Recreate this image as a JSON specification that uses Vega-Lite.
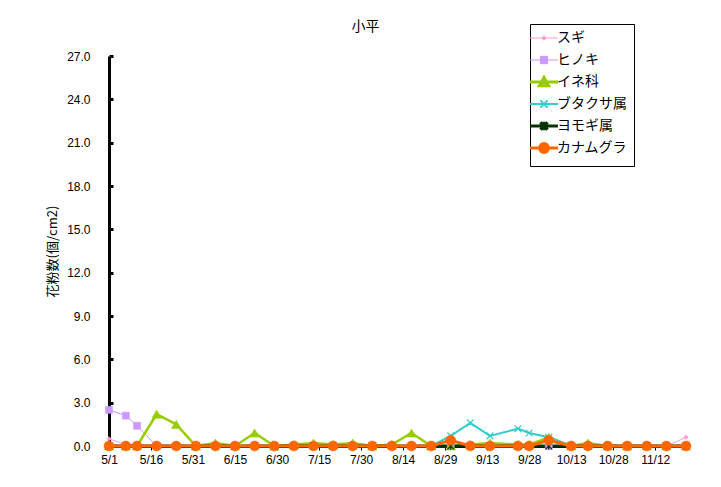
{
  "$schema": "https://vega.github.io/schema/vega-lite/v6.json",
  "width": 577,
  "height": 390,
  "autosize": {"type": "none"},
  "padding": {"left": 109, "top": 56, "right": 35, "bottom": 41},
  "background": "white",
  "config": {"view": {"stroke": null}},
  "title": {
    "text": "小平",
    "font": "Noto Sans CJK JP",
    "fontSize": 14,
    "fontWeight": "normal",
    "color": "black",
    "anchor": "middle",
    "frame": "group",
    "dx": -32,
    "dy": 26,
    "offset": 16
  },
  "data": {
    "values": [
      {"date": "2023/05/01", "series": "スギ", "value": 0.5},
      {"date": "2023/05/07", "series": "スギ", "value": 0.1},
      {"date": "2023/05/11", "series": "スギ", "value": 0},
      {"date": "2023/05/18", "series": "スギ", "value": 0},
      {"date": "2023/05/25", "series": "スギ", "value": 0},
      {"date": "2023/06/01", "series": "スギ", "value": 0},
      {"date": "2023/06/08", "series": "スギ", "value": 0},
      {"date": "2023/06/15", "series": "スギ", "value": 0},
      {"date": "2023/06/22", "series": "スギ", "value": 0.1},
      {"date": "2023/06/29", "series": "スギ", "value": 0},
      {"date": "2023/07/06", "series": "スギ", "value": 0},
      {"date": "2023/07/13", "series": "スギ", "value": 0},
      {"date": "2023/07/20", "series": "スギ", "value": 0},
      {"date": "2023/07/27", "series": "スギ", "value": 0},
      {"date": "2023/08/03", "series": "スギ", "value": 0},
      {"date": "2023/08/10", "series": "スギ", "value": 0},
      {"date": "2023/08/17", "series": "スギ", "value": 0},
      {"date": "2023/08/24", "series": "スギ", "value": 0},
      {"date": "2023/08/31", "series": "スギ", "value": 0},
      {"date": "2023/09/07", "series": "スギ", "value": 0},
      {"date": "2023/09/14", "series": "スギ", "value": 0},
      {"date": "2023/09/24", "series": "スギ", "value": 0},
      {"date": "2023/09/28", "series": "スギ", "value": 0},
      {"date": "2023/10/05", "series": "スギ", "value": 0},
      {"date": "2023/10/13", "series": "スギ", "value": 0},
      {"date": "2023/10/19", "series": "スギ", "value": 0},
      {"date": "2023/10/26", "series": "スギ", "value": 0},
      {"date": "2023/11/02", "series": "スギ", "value": 0},
      {"date": "2023/11/09", "series": "スギ", "value": 0},
      {"date": "2023/11/16", "series": "スギ", "value": 0},
      {"date": "2023/11/23", "series": "スギ", "value": 0.6},

      {"date": "2023/05/01", "series": "ヒノキ", "value": 2.5},
      {"date": "2023/05/07", "series": "ヒノキ", "value": 2.1},
      {"date": "2023/05/11", "series": "ヒノキ", "value": 1.4},
      {"date": "2023/05/18", "series": "ヒノキ", "value": 0},
      {"date": "2023/05/25", "series": "ヒノキ", "value": 0},
      {"date": "2023/06/01", "series": "ヒノキ", "value": 0},
      {"date": "2023/06/08", "series": "ヒノキ", "value": 0},
      {"date": "2023/06/15", "series": "ヒノキ", "value": 0},
      {"date": "2023/06/22", "series": "ヒノキ", "value": 0},
      {"date": "2023/06/29", "series": "ヒノキ", "value": 0},
      {"date": "2023/07/06", "series": "ヒノキ", "value": 0},
      {"date": "2023/07/13", "series": "ヒノキ", "value": 0},
      {"date": "2023/07/20", "series": "ヒノキ", "value": 0},
      {"date": "2023/07/27", "series": "ヒノキ", "value": 0},
      {"date": "2023/08/03", "series": "ヒノキ", "value": 0},
      {"date": "2023/08/10", "series": "ヒノキ", "value": 0},
      {"date": "2023/08/17", "series": "ヒノキ", "value": 0},
      {"date": "2023/08/24", "series": "ヒノキ", "value": 0},
      {"date": "2023/08/31", "series": "ヒノキ", "value": 0},
      {"date": "2023/09/07", "series": "ヒノキ", "value": 0},
      {"date": "2023/09/14", "series": "ヒノキ", "value": 0},
      {"date": "2023/09/24", "series": "ヒノキ", "value": 0},
      {"date": "2023/09/28", "series": "ヒノキ", "value": 0},
      {"date": "2023/10/05", "series": "ヒノキ", "value": 0},
      {"date": "2023/10/13", "series": "ヒノキ", "value": 0},
      {"date": "2023/10/19", "series": "ヒノキ", "value": 0},
      {"date": "2023/10/26", "series": "ヒノキ", "value": 0},
      {"date": "2023/11/02", "series": "ヒノキ", "value": 0},
      {"date": "2023/11/09", "series": "ヒノキ", "value": 0},
      {"date": "2023/11/16", "series": "ヒノキ", "value": 0},
      {"date": "2023/11/23", "series": "ヒノキ", "value": 0},

      {"date": "2023/05/01", "series": "イネ科", "value": 0},
      {"date": "2023/05/07", "series": "イネ科", "value": 0},
      {"date": "2023/05/11", "series": "イネ科", "value": 0},
      {"date": "2023/05/18", "series": "イネ科", "value": 2.2},
      {"date": "2023/05/25", "series": "イネ科", "value": 1.5},
      {"date": "2023/06/01", "series": "イネ科", "value": 0},
      {"date": "2023/06/08", "series": "イネ科", "value": 0.2},
      {"date": "2023/06/15", "series": "イネ科", "value": 0},
      {"date": "2023/06/22", "series": "イネ科", "value": 0.9},
      {"date": "2023/06/29", "series": "イネ科", "value": 0},
      {"date": "2023/07/06", "series": "イネ科", "value": 0.1},
      {"date": "2023/07/13", "series": "イネ科", "value": 0.2},
      {"date": "2023/07/20", "series": "イネ科", "value": 0.1},
      {"date": "2023/07/27", "series": "イネ科", "value": 0.2},
      {"date": "2023/08/03", "series": "イネ科", "value": 0},
      {"date": "2023/08/10", "series": "イネ科", "value": 0.1},
      {"date": "2023/08/17", "series": "イネ科", "value": 0.9},
      {"date": "2023/08/24", "series": "イネ科", "value": 0},
      {"date": "2023/08/31", "series": "イネ科", "value": 0},
      {"date": "2023/09/07", "series": "イネ科", "value": 0.1},
      {"date": "2023/09/14", "series": "イネ科", "value": 0.2},
      {"date": "2023/09/24", "series": "イネ科", "value": 0.1},
      {"date": "2023/09/28", "series": "イネ科", "value": 0.1},
      {"date": "2023/10/05", "series": "イネ科", "value": 0.6},
      {"date": "2023/10/13", "series": "イネ科", "value": 0},
      {"date": "2023/10/19", "series": "イネ科", "value": 0.2},
      {"date": "2023/10/26", "series": "イネ科", "value": 0},
      {"date": "2023/11/02", "series": "イネ科", "value": 0},
      {"date": "2023/11/09", "series": "イネ科", "value": 0},
      {"date": "2023/11/16", "series": "イネ科", "value": 0},
      {"date": "2023/11/23", "series": "イネ科", "value": 0},

      {"date": "2023/05/01", "series": "ブタクサ属", "value": 0},
      {"date": "2023/05/07", "series": "ブタクサ属", "value": 0},
      {"date": "2023/05/11", "series": "ブタクサ属", "value": 0},
      {"date": "2023/05/18", "series": "ブタクサ属", "value": 0},
      {"date": "2023/05/25", "series": "ブタクサ属", "value": 0},
      {"date": "2023/06/01", "series": "ブタクサ属", "value": 0},
      {"date": "2023/06/08", "series": "ブタクサ属", "value": 0},
      {"date": "2023/06/15", "series": "ブタクサ属", "value": 0},
      {"date": "2023/06/22", "series": "ブタクサ属", "value": 0},
      {"date": "2023/06/29", "series": "ブタクサ属", "value": 0},
      {"date": "2023/07/06", "series": "ブタクサ属", "value": 0},
      {"date": "2023/07/13", "series": "ブタクサ属", "value": 0},
      {"date": "2023/07/20", "series": "ブタクサ属", "value": 0},
      {"date": "2023/07/27", "series": "ブタクサ属", "value": 0},
      {"date": "2023/08/03", "series": "ブタクサ属", "value": 0},
      {"date": "2023/08/10", "series": "ブタクサ属", "value": 0},
      {"date": "2023/08/17", "series": "ブタクサ属", "value": 0},
      {"date": "2023/08/24", "series": "ブタクサ属", "value": 0},
      {"date": "2023/08/31", "series": "ブタクサ属", "value": 0.7},
      {"date": "2023/09/07", "series": "ブタクサ属", "value": 1.6},
      {"date": "2023/09/14", "series": "ブタクサ属", "value": 0.7},
      {"date": "2023/09/24", "series": "ブタクサ属", "value": 1.2},
      {"date": "2023/09/28", "series": "ブタクサ属", "value": 0.9},
      {"date": "2023/10/05", "series": "ブタクサ属", "value": 0.6},
      {"date": "2023/10/13", "series": "ブタクサ属", "value": 0},
      {"date": "2023/10/19", "series": "ブタクサ属", "value": 0},
      {"date": "2023/10/26", "series": "ブタクサ属", "value": 0},
      {"date": "2023/11/02", "series": "ブタクサ属", "value": 0},
      {"date": "2023/11/09", "series": "ブタクサ属", "value": 0},
      {"date": "2023/11/16", "series": "ブタクサ属", "value": 0},
      {"date": "2023/11/23", "series": "ブタクサ属", "value": 0},

      {"date": "2023/05/01", "series": "ヨモギ属", "value": 0},
      {"date": "2023/05/07", "series": "ヨモギ属", "value": 0},
      {"date": "2023/05/11", "series": "ヨモギ属", "value": 0},
      {"date": "2023/05/18", "series": "ヨモギ属", "value": 0},
      {"date": "2023/05/25", "series": "ヨモギ属", "value": 0},
      {"date": "2023/06/01", "series": "ヨモギ属", "value": 0},
      {"date": "2023/06/08", "series": "ヨモギ属", "value": 0},
      {"date": "2023/06/15", "series": "ヨモギ属", "value": 0},
      {"date": "2023/06/22", "series": "ヨモギ属", "value": 0},
      {"date": "2023/06/29", "series": "ヨモギ属", "value": 0},
      {"date": "2023/07/06", "series": "ヨモギ属", "value": 0},
      {"date": "2023/07/13", "series": "ヨモギ属", "value": 0},
      {"date": "2023/07/20", "series": "ヨモギ属", "value": 0},
      {"date": "2023/07/27", "series": "ヨモギ属", "value": 0},
      {"date": "2023/08/03", "series": "ヨモギ属", "value": 0},
      {"date": "2023/08/10", "series": "ヨモギ属", "value": 0},
      {"date": "2023/08/17", "series": "ヨモギ属", "value": 0},
      {"date": "2023/08/24", "series": "ヨモギ属", "value": 0},
      {"date": "2023/08/31", "series": "ヨモギ属", "value": 0},
      {"date": "2023/09/07", "series": "ヨモギ属", "value": 0},
      {"date": "2023/09/14", "series": "ヨモギ属", "value": 0},
      {"date": "2023/09/24", "series": "ヨモギ属", "value": 0},
      {"date": "2023/09/28", "series": "ヨモギ属", "value": 0},
      {"date": "2023/10/05", "series": "ヨモギ属", "value": 0},
      {"date": "2023/10/13", "series": "ヨモギ属", "value": 0},
      {"date": "2023/10/19", "series": "ヨモギ属", "value": 0},
      {"date": "2023/10/26", "series": "ヨモギ属", "value": 0},
      {"date": "2023/11/02", "series": "ヨモギ属", "value": 0},
      {"date": "2023/11/09", "series": "ヨモギ属", "value": 0},
      {"date": "2023/11/16", "series": "ヨモギ属", "value": 0},
      {"date": "2023/11/23", "series": "ヨモギ属", "value": 0},

      {"date": "2023/05/01", "series": "カナムグラ", "value": 0},
      {"date": "2023/05/07", "series": "カナムグラ", "value": 0},
      {"date": "2023/05/11", "series": "カナムグラ", "value": 0},
      {"date": "2023/05/18", "series": "カナムグラ", "value": 0},
      {"date": "2023/05/25", "series": "カナムグラ", "value": 0},
      {"date": "2023/06/01", "series": "カナムグラ", "value": 0},
      {"date": "2023/06/08", "series": "カナムグラ", "value": 0},
      {"date": "2023/06/15", "series": "カナムグラ", "value": 0},
      {"date": "2023/06/22", "series": "カナムグラ", "value": 0},
      {"date": "2023/06/29", "series": "カナムグラ", "value": 0},
      {"date": "2023/07/06", "series": "カナムグラ", "value": 0},
      {"date": "2023/07/13", "series": "カナムグラ", "value": 0},
      {"date": "2023/07/20", "series": "カナムグラ", "value": 0},
      {"date": "2023/07/27", "series": "カナムグラ", "value": 0},
      {"date": "2023/08/03", "series": "カナムグラ", "value": 0},
      {"date": "2023/08/10", "series": "カナムグラ", "value": 0},
      {"date": "2023/08/17", "series": "カナムグラ", "value": 0},
      {"date": "2023/08/24", "series": "カナムグラ", "value": 0},
      {"date": "2023/08/31", "series": "カナムグラ", "value": 0.4},
      {"date": "2023/09/07", "series": "カナムグラ", "value": 0},
      {"date": "2023/09/14", "series": "カナムグラ", "value": 0},
      {"date": "2023/09/24", "series": "カナムグラ", "value": 0},
      {"date": "2023/09/28", "series": "カナムグラ", "value": 0},
      {"date": "2023/10/05", "series": "カナムグラ", "value": 0.4},
      {"date": "2023/10/13", "series": "カナムグラ", "value": 0},
      {"date": "2023/10/19", "series": "カナムグラ", "value": 0},
      {"date": "2023/10/26", "series": "カナムグラ", "value": 0},
      {"date": "2023/11/02", "series": "カナムグラ", "value": 0},
      {"date": "2023/11/09", "series": "カナムグラ", "value": 0},
      {"date": "2023/11/16", "series": "カナムグラ", "value": 0},
      {"date": "2023/11/23", "series": "カナムグラ", "value": 0}
    ]
  },
  "encoding": {
    "x": {
      "field": "date",
      "type": "temporal",
      "title": null,
      "scale": {"domain": [{"year": 2023, "month": 5, "date": 1}, {"year": 2023, "month": 11, "date": 23}]},
      "axis": {
        "values": [
          {"year": 2023, "month": 5, "date": 1},
          {"year": 2023, "month": 5, "date": 16},
          {"year": 2023, "month": 5, "date": 31},
          {"year": 2023, "month": 6, "date": 15},
          {"year": 2023, "month": 6, "date": 30},
          {"year": 2023, "month": 7, "date": 15},
          {"year": 2023, "month": 7, "date": 30},
          {"year": 2023, "month": 8, "date": 14},
          {"year": 2023, "month": 8, "date": 29},
          {"year": 2023, "month": 9, "date": 13},
          {"year": 2023, "month": 9, "date": 28},
          {"year": 2023, "month": 10, "date": 13},
          {"year": 2023, "month": 10, "date": 28},
          {"year": 2023, "month": 11, "date": 12}
        ],
        "format": "%-m/%-d",
        "grid": false,
        "domainColor": "black",
        "domainWidth": 3,
        "tickColor": "black",
        "tickSize": 4,
        "labelFont": "Liberation Sans",
        "labelFontSize": 12,
        "labelColor": "black",
        "labelPadding": 4,
        "labelFlush": false,
        "labelOverlap": false
      }
    },
    "y": {
      "field": "value",
      "type": "quantitative",
      "title": "花粉数(個/cm2)",
      "scale": {"domain": [0, 27], "nice": false},
      "axis": {
        "values": [0, 3, 6, 9, 12, 15, 18, 21, 24, 27],
        "format": ".1f",
        "grid": false,
        "domainColor": "black",
        "domainWidth": 3,
        "tickColor": "black",
        "tickWidth": 3,
        "tickSize": -4,
        "labelFont": "Liberation Sans",
        "labelFontSize": 12,
        "labelColor": "black",
        "labelPadding": 23,
        "titleFont": "Noto Sans CJK JP",
        "titleFontSize": 13,
        "titleFontWeight": "normal",
        "titleColor": "black",
        "titleX": -57,
        "titleY": 195,
        "titleAngle": -90,
        "titleAlign": "center",
        "titleBaseline": "middle"
      }
    }
  },
  "layer": [
    {
      "mark": {"type": "line", "clip": false},
      "encoding": {
        "color": {
          "field": "series",
          "type": "nominal",
          "sort": null,
          "scale": {
            "domain": ["スギ", "ヒノキ", "イネ科", "ブタクサ属", "ヨモギ属", "カナムグラ"],
            "range": ["#FF99CC", "#CC99FF", "#99CC00", "#33CCCC", "#003300", "#FF6600"]
          },
          "legend": {
            "title": null,
            "orient": "none",
            "legendX": 421,
            "legendY": -32,
            "direction": "vertical",
            "strokeColor": "black",
            "fillColor": "white",
            "padding": 7,
            "gridAlign": "all",
            "symbolSize": 484,
            "rowPadding": 0,
            "labelOffset": 6,
            "labelFont": "Noto Sans CJK JP",
            "labelFontSize": 14,
            "labelColor": "black",
            "encode": {
              "symbols": {
                "update": {
                  "shape": {"signal": "datum.value==='スギ' ? 'M-1.27,0H1.27M0,-0.2L0.2,0L0,0.2L-0.2,0Z' : datum.value==='ヒノキ' ? 'M-1.27,0H1.27M-0.33,-0.33H0.33V0.33H-0.33Z' : datum.value==='イネ科' ? 'M-1.27,0H1.27M0,-0.42L0.42,0.33H-0.42Z' : datum.value==='ブタクサ属' ? 'M-1.27,0H1.27M-0.33,-0.33L0.33,0.33M0.33,-0.33L-0.33,0.33' : datum.value==='ヨモギ属' ? 'M-1.27,0H1.27M-0.33,-0.33L0.33,0.33M0.33,-0.33L-0.33,0.33M0,-0.38V0.38' : 'M-1.27,0H1.27M-0.4,0A0.4,0.4 0 1,0 0.4,0A0.4,0.4 0 1,0 -0.4,0Z'"},
                  "strokeWidth": {"signal": "datum.value==='スギ' || datum.value==='ヒノキ' ? 1 : datum.value==='ブタクサ属' ? 2 : 3"},
                  "fill": {"scale": "color", "field": "value"},
                  "stroke": {"scale": "color", "field": "value"},
                  "opacity": {"value": 1}
                }
              }
            }
          }
        },
        "strokeWidth": {
          "condition": [
            {"test": "datum.series==='スギ' || datum.series==='ヒノキ'", "value": 1},
            {"test": "datum.series==='ブタクサ属'", "value": 2},
            {"test": "datum.series==='イネ科'", "value": 2.5}
          ],
          "value": 3
        }
      }
    },
    {
      "mark": {"type": "point", "filled": true, "opacity": 1, "clip": false},
      "encoding": {
        "fill": {
          "field": "series",
          "type": "nominal",
          "sort": null,
          "scale": {
            "domain": ["スギ", "ヒノキ", "イネ科", "ブタクサ属", "ヨモギ属", "カナムグラ"],
            "range": ["#FF99CC", "#CC99FF", "#99CC00", "#33CCCC", "#003300", "#FF6600"]
          },
          "legend": null
        },
        "stroke": {
          "field": "series",
          "type": "nominal",
          "sort": null,
          "scale": {
            "domain": ["スギ", "ヒノキ", "イネ科", "ブタクサ属", "ヨモギ属", "カナムグラ"],
            "range": ["#FF99CC", "#CC99FF", "#99CC00", "#33CCCC", "#003300", "#FF6600"]
          },
          "legend": null
        },
        "shape": {
          "condition": [
            {"test": "datum.series==='スギ'", "value": "diamond"},
            {"test": "datum.series==='ヒノキ'", "value": "square"},
            {"test": "datum.series==='イネ科'", "value": "triangle-up"},
            {"test": "datum.series==='ブタクサ属'", "value": "M-1,-1L1,1M1,-1L-1,1"},
            {"test": "datum.series==='ヨモギ属'", "value": "M-1,-1L1,1M1,-1L-1,1M0,-1.1V1.1"}
          ],
          "value": "circle"
        },
        "size": {
          "condition": [
            {"test": "datum.series==='スギ'", "value": 20},
            {"test": "datum.series==='ヒノキ'", "value": 50},
            {"test": "datum.series==='イネ科'", "value": 90},
            {"test": "datum.series==='ブタクサ属'", "value": 45},
            {"test": "datum.series==='ヨモギ属'", "value": 45}
          ],
          "value": 100
        },
        "strokeWidth": {
          "condition": [
            {"test": "datum.series==='ブタクサ属' || datum.series==='ヨモギ属'", "value": 1.2}
          ],
          "value": 0.5
        }
      }
    }
  ]
}
